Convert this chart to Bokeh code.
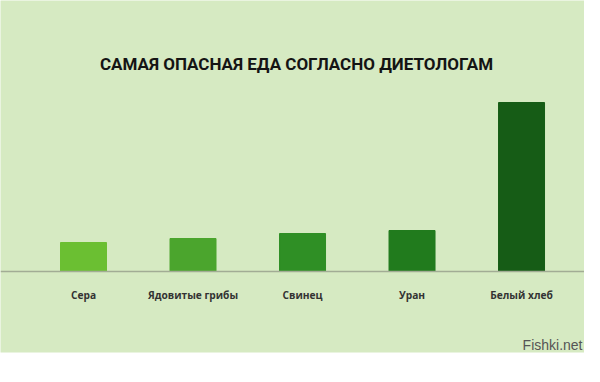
from bokeh.plotting import figure
from bokeh.models import Range1d, Span, Label, ColumnDataSource
from bokeh.core.properties import value
from bokeh.embed import file_html
from bokeh.resources import INLINE

title_text = "САМАЯ ОПАСНАЯ ЕДА СОГЛАСНО ДИЕТОЛОГАМ"
categories = ["Сера", "Ядовитые грибы", "Свинец", "Уран", "Белый хлеб"]
danger = [29, 33, 38, 41, 169]
bar_colors = ["#6bbf32", "#4ba52d", "#2f8f25", "#217b1d", "#165c16"]
source_text = "Fishki.net"

BG = "#d6eac2"

src = ColumnDataSource(dict(pos=list(range(len(categories))), cat=categories,
                            val=danger, color=bar_colors))

p = figure(
    width=584, height=366,
    x_range=Range1d(-0.758, 4.575),
    y_range=Range1d(-81, 271),
    output_backend="svg", toolbar_location=None,
    min_border_left=0, min_border_right=0, min_border_top=0, min_border_bottom=14,
)
p.background_fill_color = BG
p.border_fill_color = "white"
p.outline_line_color = None
p.xaxis.visible = False
p.yaxis.visible = False
p.grid.visible = False

p.vbar(x="pos", top="val", bottom=0, width=0.42, color="color", source=src)

p.add_layout(Span(location=0, dimension="width", line_color="#a2ac95", line_width=1.5))

p.text(x="pos", y=-23, text="cat", source=src, text_align="center", text_baseline="middle",
       text_font=value("Open Sans"), text_font_style="bold", text_font_size="10.2px",
       text_color="#333333")

p.add_layout(Label(x=1.945, y=208, text=title_text, text_align="center", text_baseline="middle",
                   text_font="Roboto", text_font_style="bold",
                   text_font_size="17px", text_color="#141414"))

p.add_layout(Label(x=582, y=0, x_units="screen", y_units="screen", text=source_text,
                   text_align="right", text_baseline="bottom", text_font="Liberation Sans",
                   text_font_size="14px", text_color="#555555"))

open("out.html", "w").write(file_html(p, INLINE))
